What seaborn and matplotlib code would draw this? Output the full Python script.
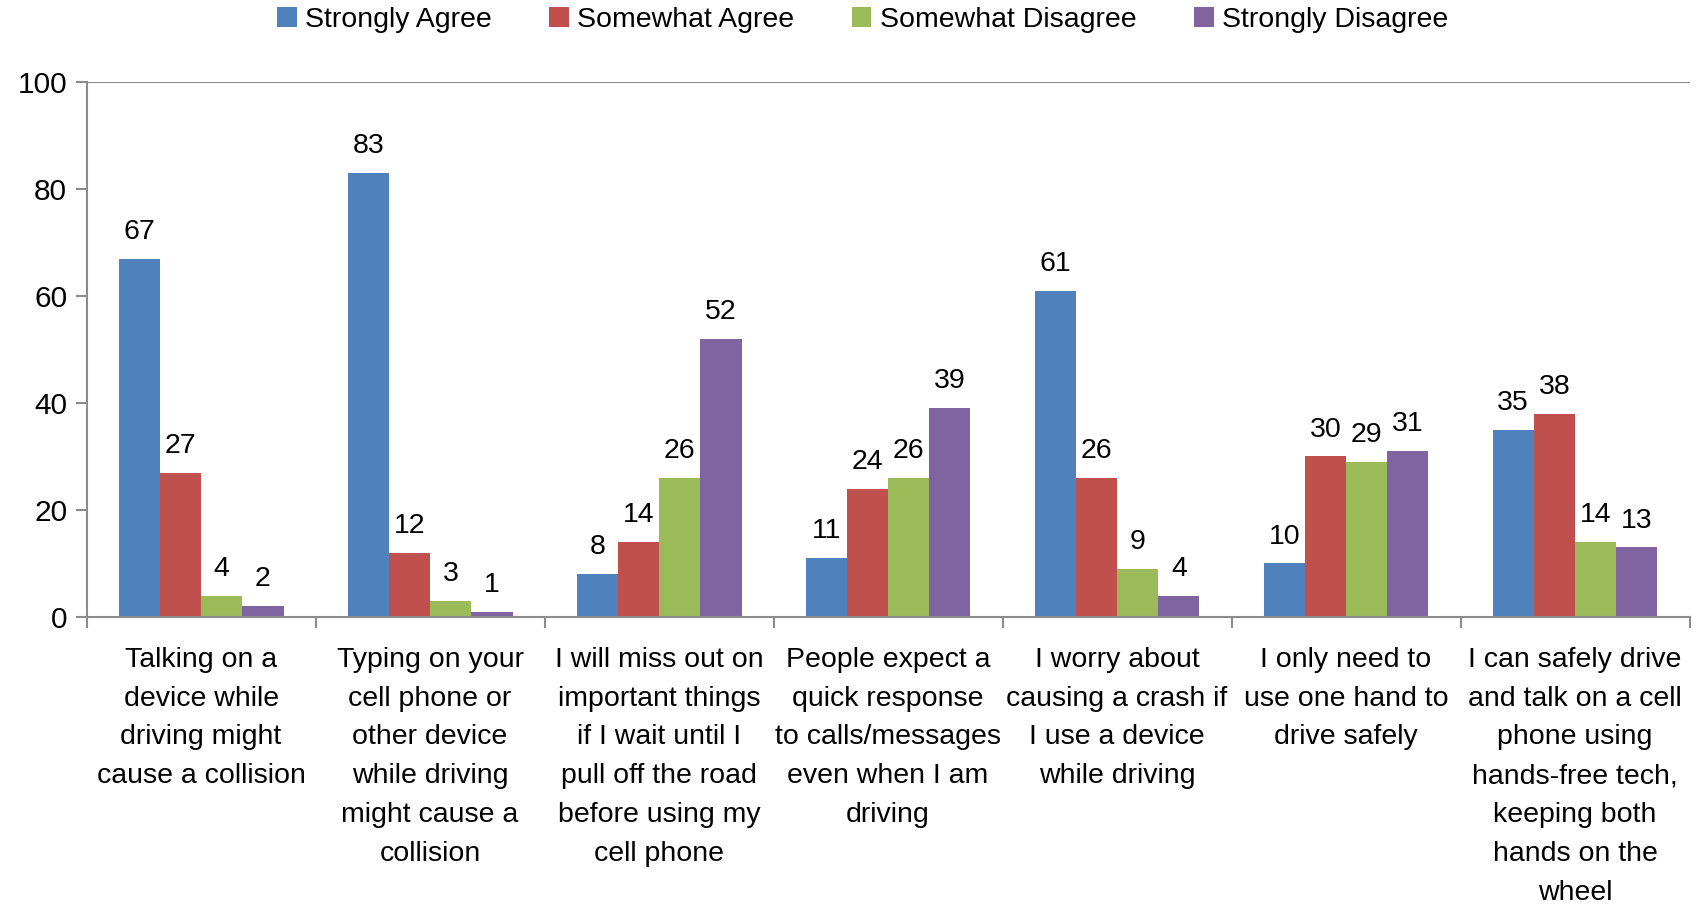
import matplotlib
matplotlib.use("Agg")
import matplotlib.pyplot as plt
import seaborn as sns
import pandas as pd
from matplotlib.ticker import FixedLocator

categories = [
    "Talking on a\ndevice while\ndriving might\ncause a collision",
    "Typing on your\ncell phone or\nother device\nwhile driving\nmight cause a\ncollision",
    "I will miss out on\nimportant things\nif I wait until I\npull off the road\nbefore using my\ncell phone",
    "People expect a\nquick response\nto calls/messages\neven when I am\ndriving",
    "I worry about\ncausing a crash if\nI use a device\nwhile driving",
    "I only need to\nuse one hand to\ndrive safely",
    "I can safely drive\nand talk on a cell\nphone using\nhands-free tech,\nkeeping both\nhands on the\nwheel",
]
series = ["Strongly Agree", "Somewhat Agree", "Somewhat Disagree", "Strongly Disagree"]
strongly_agree = [67, 83, 8, 11, 61, 10, 35]
somewhat_agree = [27, 12, 14, 24, 26, 30, 38]
somewhat_disagree = [4, 3, 26, 26, 9, 29, 14]
strongly_disagree = [2, 1, 52, 39, 4, 31, 13]
colors = ["#4F81BD", "#C0504D", "#9BBB59", "#8064A2"]

rows = []
for name, vals in zip(series, [strongly_agree, somewhat_agree, somewhat_disagree, strongly_disagree]):
    for c, v in zip(categories, vals):
        rows.append({"category": c, "response": name, "value": v})
df = pd.DataFrame(rows)

sns.set_style("white")
plt.rcParams["font.family"] = ["Liberation Sans Narrow", "Liberation Sans", "DejaVu Sans"]
plt.rcParams["text.color"] = "black"
plt.rcParams["xtick.color"] = "black"
plt.rcParams["ytick.color"] = "black"
FS = 20.5

fig = plt.figure(figsize=(16.98, 9.06), dpi=100)
ax = fig.add_axes([0.051, 0.319, 0.944, 0.5905])

sns.barplot(data=df, x="category", y="value", hue="response", order=categories,
            hue_order=series, palette=colors, width=0.72, saturation=1,
            edgecolor="none", linewidth=0, ax=ax, legend=True)

for cont in ax.containers:
    ax.bar_label(cont, fmt="%d", padding=10, fontsize=FS, color="black")

ax.set_ylim(0, 100)
ax.set_xlim(-0.5, len(categories) - 0.5)
ax.set_yticks([0, 20, 40, 60, 80, 100])
ax.set_xlabel("")
ax.set_ylabel("")
ax.axhline(100, color="#8C8C8C", lw=1.5, zorder=0)

for s in ["top", "right"]:
    ax.spines[s].set_visible(False)
for s in ["left", "bottom"]:
    ax.spines[s].set_color("#8C8C8C")
    ax.spines[s].set_linewidth(1.5)

ax.tick_params(axis="y", which="major", length=8, width=1.5, color="#8C8C8C",
               labelsize=FS + 1, labelcolor="black", pad=6, left=True)
ax.tick_params(axis="x", which="major", length=0, labelsize=FS, labelcolor="black",
               pad=21.5, bottom=True)
ax.xaxis.set_minor_locator(FixedLocator([i - 0.5 for i in range(len(categories) + 1)]))
ax.tick_params(axis="x", which="minor", length=8, width=1.5, color="#8C8C8C", bottom=True)
for lab in ax.get_xticklabels():
    lab.set_linespacing(1.64)
    lab.set_horizontalalignment("center")

handles, labels = ax.get_legend_handles_labels()
leg = ax.legend(handles, labels, loc="center", bbox_to_anchor=(0.508, 0.978),
                bbox_transform=fig.transFigure,
                ncol=4, frameon=False, fontsize=FS, handlelength=0.7, handleheight=0.7,
                handletextpad=0.3, columnspacing=2.0)
for t in leg.get_texts():
    t.set_color("black")

fig.savefig("out.png", dpi=100)
